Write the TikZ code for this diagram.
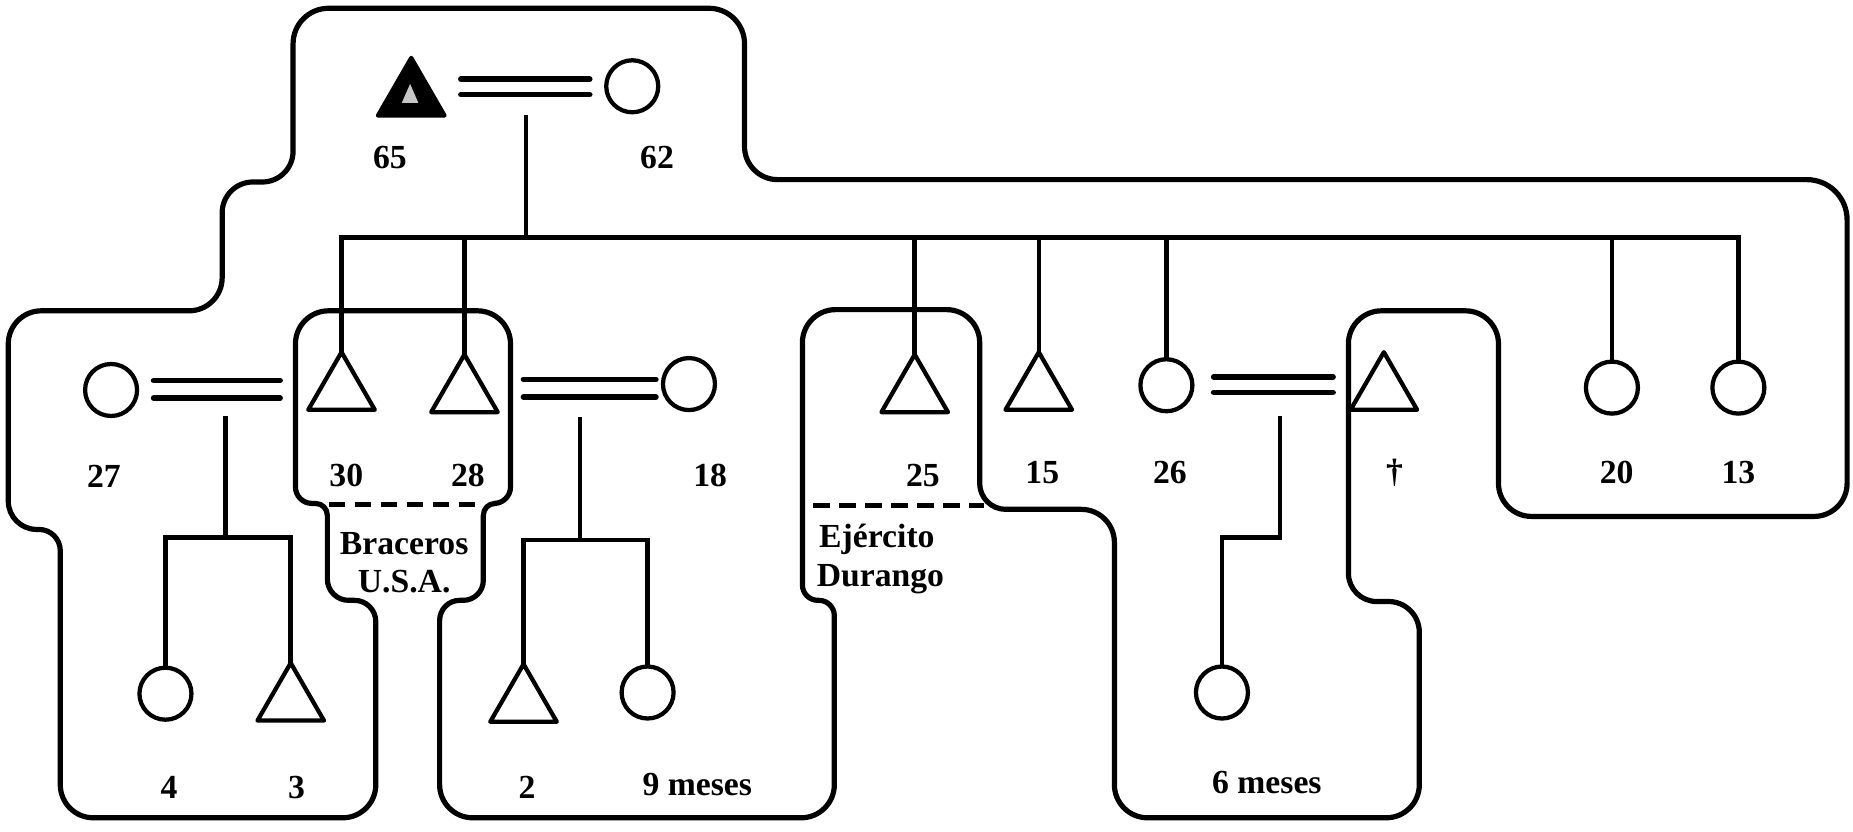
\documentclass[tikz,border=0pt]{standalone}
\usepackage{fontspec}
\setmainfont{Liberation Serif}
\usetikzlibrary{shapes.geometric}
\tikzset{
  kinline/.style={line width=3.8pt},
  wedline/.style={line width=4.8pt, line cap=round},
  person/.style={draw, line width=3.6pt, inner sep=0pt, outer sep=0pt},
  maleshape/.style={person, regular polygon, regular polygon sides=3, minimum size=65pt, anchor=corner 1, line join=round},
  femaleshape/.style={person, circle, minimum size=44pt},
  hull/.style={line width=4.4pt, line join=round},
  grouprule/.style={line width=4.2pt, dash pattern=on 14pt off 8pt},
  age/.style={inner sep=0pt, font=\fontsize{28.5}{32}\selectfont\bfseries},
}
\begin{document}
\begin{tikzpicture}[x=1pt, y=-1pt]
\useasboundingbox (0,0) rectangle (1568,704);

% household boundary; each radius is set just before the corner it rounds
\draw[hull] (100,263)
  [rounded corners=28pt] -- (188,263)
  [rounded corners=26pt] -- (188,154)
  [rounded corners=26pt] -- (248,154)
  [rounded corners=30pt] -- (248,7)
  [rounded corners=30pt] -- (630,7)
  [rounded corners=28pt] -- (630,152)
  [rounded corners=34pt] -- (1563,152)
  [rounded corners=28pt] -- (1563,437)
  [rounded corners=28pt] -- (1268,437)
  [rounded corners=28pt] -- (1268,263)
  [rounded corners=28pt] -- (1141,263)
  [rounded corners=24pt] -- (1141,509)
  [rounded corners=26pt] -- (1201,509)
  [rounded corners=28pt] -- (1201,692)
  [rounded corners=28pt] -- (943,692)
  [rounded corners=28pt] -- (943,431)
  [rounded corners=22pt] -- (829,431)
  [rounded corners=28pt] -- (829,262)
  [rounded corners=28pt] -- (679,262)
  [rounded corners=13pt] -- (679,508)
  [rounded corners=13pt] -- (706,508)
  [rounded corners=28pt] -- (706,692)
  [rounded corners=28pt] -- (372,692)
  [rounded corners=17pt] -- (372,508)
  [rounded corners=17pt] -- (409,508)
  [rounded corners=10pt] -- (409,426)
  [rounded corners=14pt] -- (432,426)
  [rounded corners=28pt] -- (432,263)
  [rounded corners=28pt] -- (250,263)
  [rounded corners=14pt] -- (250,426)
  [rounded corners=10pt] -- (277,426)
  [rounded corners=18pt] -- (277,508)
  [rounded corners=18pt] -- (318,508)
  [rounded corners=28pt] -- (318,692)
  [rounded corners=28pt] -- (51,692)
  [rounded corners=18pt] -- (51,448)
  [rounded corners=24pt] -- (7,448)
  [rounded corners=28pt] -- (7,263)
  -- cycle;

% grandparents
\node[maleshape, fill=black] (t65) at (348,49) {};
\fill[gray!45] (347,71) -- (354,87) -- (340,87) -- cycle;
\node[femaleshape] (c62) at (535,73) {};
\draw[wedline] ([xshift=-14pt,yshift=6pt]c62.west) -- +(-109pt,0pt);
\draw[wedline] ([xshift=-14pt,yshift=-7pt]c62.west) -- +(-109pt,0pt);
\node[age] (a65) at (330,133) {65};
\node[age] (a62) at (556,133) {62};

% children of the grandparents
\node[femaleshape] (c27) at (94,330) {};
\node[maleshape] (t30) at (289,298) {};
\node[maleshape] (t28) at (393,300) {};
\node[femaleshape] (c18) at (583,325) {};
\node[maleshape] (t25) at (774,300) {};
\node[maleshape] (t15) at (879,298) {};
\node[femaleshape] (c26) at (987,326) {};
\node[maleshape] (tdead) at (1171,298) {};
\node[femaleshape] (c20) at (1364,328) {};
\node[femaleshape] (c13) at (1471,328) {};

\coordinate (gtop) at (445,97);
\coordinate (sib) at (445,201);
\draw[kinline] (gtop) -- (sib);
\draw[kinline] (t30.corner 1) -- (t30.corner 1 |- sib) -- (c13.north |- sib) -- (c13.north);
\foreach \n in {t28.corner 1, t25.corner 1, t15.corner 1, c26.north, c20.north}
  \draw[kinline] (\n) -- (\n |- sib);

\node[age] (a27) at (88,403) {27};
\node[age] (a30) at (293,402) {30};
\node[age] (a28) at (396,402) {28};
\node[age] (a18) at (601,402) {18};
\node[age] (a25) at (781,402) {25};
\node[age] (a15) at (882,400) {15};
\node[age] (a26) at (990,400) {26};
\node[age] (adead) at (1180,400) {†};
\node[age] (a20) at (1368,400) {20};
\node[age] (a13) at (1471,400) {13};

% couple 27 = 30
\draw[wedline] ([xshift=14pt,yshift=8pt]c27.east) -- +(107pt,0pt);
\draw[wedline] ([xshift=14pt,yshift=-7pt]c27.east) -- +(107pt,0pt);
\node[femaleshape] (c4) at (140,587) {};
\node[maleshape] (t3) at (246,561) {};
\coordinate (f1top) at (191,352);
\coordinate (f1) at (191,455);
\draw[kinline] (f1top) -- (f1);
\draw[kinline] (c4.north) -- (c4.north |- f1) -- (t3.corner 1 |- f1) -- (t3.corner 1);
\node[age] (a4) at (143,666) {4};
\node[age] (a3) at (251,666) {3};

% couple 28 = 18
\draw[wedline] ([xshift=-6pt,yshift=4pt]c18.west) -- +(-112pt,0pt);
\draw[wedline] ([xshift=-6pt,yshift=-11pt]c18.west) -- +(-112pt,0pt);
\node[maleshape] (t2) at (443,562) {};
\node[femaleshape] (c9) at (548,586) {};
\coordinate (f2top) at (491,353);
\coordinate (f2) at (491,457);
\draw[kinline] (f2top) -- (f2);
\draw[kinline] (t2.corner 1) -- (t2.corner 1 |- f2) -- (c9.north |- f2) -- (c9.north);
\node[age] (a2) at (446,666) {2};
\node[age] (a9) at (590,664) {9 meses};

% couple 26 = deceased husband
\draw[wedline] ([xshift=18pt,yshift=7pt]c26.east) -- +(101pt,0pt);
\draw[wedline] ([xshift=18pt,yshift=-6pt]c26.east) -- +(101pt,0pt);
\node[femaleshape] (c6) at (1034,586) {};
\coordinate (f3top) at (1083,352);
\coordinate (f3) at (1083,455);
\draw[kinline] (f3top) -- (f3) -- (c6.north |- f3) -- (c6.north);
\node[age] (a6) at (1072,662) {6 meses};

% absent members
\coordinate (braL) at (278,427);
\coordinate (braR) at (410,427);
\draw[grouprule] (braL) -- (braR);
\node[age] (bra1) at (342,460) {Braceros};
\node[age] (bra2) at (342,492) {U.S.A.};
\coordinate (ejeL) at (688,428);
\coordinate (ejeR) at (833,428);
\draw[grouprule] (ejeL) -- (ejeR);
\node[age] (eje1) at (742,456) {Ejército};
\node[age] (eje2) at (745,490) {Durango};
\end{tikzpicture}
\end{document}
